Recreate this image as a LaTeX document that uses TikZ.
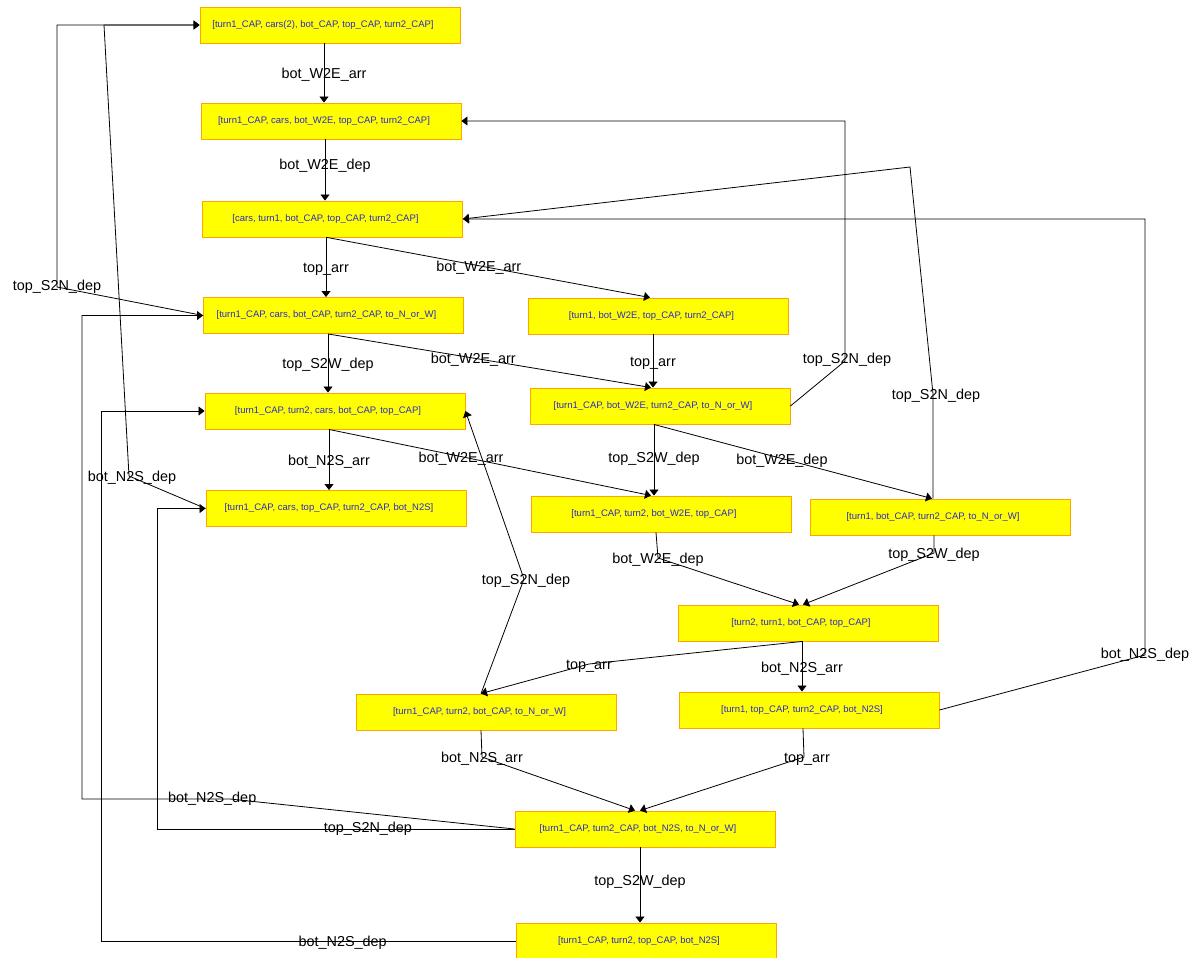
\documentclass[tikz,border=0pt]{standalone}
\usepackage{fontspec}
\setmainfont{Liberation Sans}
\usetikzlibrary{arrows.meta}
\definecolor{boxfill}{HTML}{FFFF00}
\definecolor{boxline}{HTML}{FFA500}
\definecolor{boxtext}{HTML}{2A2ACC}
\tikzset{
  state/.style={draw=boxline, fill=boxfill, line width=0.9pt, minimum width=260pt,
    minimum height=36pt, inner sep=0pt, text=boxtext,
    font=\fontsize{9.5}{11}\selectfont, execute at begin node={\hspace*{-14pt}}},
  lab/.style={font=\fontsize{14.4}{16}\selectfont, inner sep=0pt, text=black, yshift=-2pt},
  arr/.style={draw=black, line width=0.8pt, -{Triangle[length=6pt,width=9pt]}}
}
\begin{document}
\begin{tikzpicture}[x=1pt,y=-1pt]
\useasboundingbox (0,0) rectangle (1192,958);
\node[state] (N1) at (330,25) {[turn1\_CAP, cars(2), bot\_CAP, top\_CAP, turn2\_CAP]};
\node[state] (N2) at (331,121) {[turn1\_CAP, cars, bot\_W2E, top\_CAP, turn2\_CAP]};
\node[state] (N3) at (332.5,219) {[cars, turn1, bot\_CAP, top\_CAP, turn2\_CAP]};
\node[state] (N4) at (333.5,315.5) {[turn1\_CAP, cars, bot\_CAP, turn2\_CAP, to\_N\_or\_W]};
\node[state] (N5) at (658.5,316) {[turn1, bot\_W2E, top\_CAP, turn2\_CAP]};
\node[state] (N6) at (335,411) {[turn1\_CAP, turn2, cars, bot\_CAP, top\_CAP]};
\node[state] (N7) at (660,406) {[turn1\_CAP, bot\_W2E, turn2\_CAP, to\_N\_or\_W]};
\node[state] (N8) at (336,508.5) {[turn1\_CAP, cars, top\_CAP, turn2\_CAP, bot\_N2S]};
\node[state] (N9) at (661,514) {[turn1\_CAP, turn2, bot\_W2E, top\_CAP]};
\node[state] (N10) at (940,517) {[turn1, bot\_CAP, turn2\_CAP, to\_N\_or\_W]};
\node[state] (N11) at (808,623) {[turn2, turn1, bot\_CAP, top\_CAP]};
\node[state] (N12) at (486.5,712) {[turn1\_CAP, turn2, bot\_CAP, to\_N\_or\_W]};
\node[state] (N13) at (809,710) {[turn1, top\_CAP, turn2\_CAP, bot\_N2S]};
\node[state] (N14) at (645,829) {[turn1\_CAP, turn2\_CAP, bot\_N2S, to\_N\_or\_W]};
\node[state] (N15) at (646,941) {[turn1\_CAP, turn2, top\_CAP, bot\_N2S]};

\draw[arr] (324,0 |- N1.south) -- node[lab]{bot\_W2E\_arr} (324,0 |- N2.north);
\draw[arr] (325,0 |- N2.south) -- node[lab,pos=0.4]{bot\_W2E\_dep} (325,0 |- N3.north);
\draw[arr] (326,0 |- N3.south) -- node[lab]{top\_arr} (326,0 |- N4.north);
\draw[arr] (327,0 |- N3.south) -- node[lab,pos=0.47]{bot\_W2E\_arr} (650,0 |- N5.north);
\draw[arr] (328,0 |- N4.south) -- node[lab]{top\_S2W\_dep} (328,0 |- N6.north);
\draw[arr] (328,0 |- N4.south) -- node[lab,pos=0.45]{bot\_W2E\_arr} (651,0 |- N7.north);
\draw[arr] (653,0 |- N5.south) -- node[lab]{top\_arr} (653,0 |- N7.north);
\draw[arr] (329,0 |- N6.south) -- node[lab]{bot\_N2S\_arr} (329,0 |- N8.north);
\draw[arr] (329,0 |- N6.south) -- node[lab,pos=0.41]{bot\_W2E\_arr} (651,0 |- N9.north);
\draw[arr] (654,0 |- N7.south) -- node[lab,pos=0.45]{top\_S2W\_dep} (654,0 |- N9.north);
\draw[arr] (654,0 |- N7.south) -- node[lab,pos=0.46]{bot\_W2E\_dep} (932,0 |- N10.north);
\draw[arr] (656,0 |- N9.south) -- (658,558) node[lab]{bot\_W2E\_dep} -- (799,0 |- N11.north);
\draw[arr] (934,0 |- N10.south) -- (934,553) node[lab]{top\_S2W\_dep} -- (803,0 |- N11.north);
\draw[arr] (802,0 |- N11.south) -- (589,664) node[lab]{top\_arr} -- (481,0 |- N12.north);
\draw[arr] (802,0 |- N11.south) -- node[lab]{bot\_N2S\_arr} (802,0 |- N13.north);
\draw[arr] (481,0 |- N12.south) -- (482,757) node[lab]{bot\_N2S\_arr} -- (635,0 |- N14.north);
\draw[arr] (803,0 |- N13.south) -- (804,757) node[lab,xshift=3pt]{top\_arr} -- (640,0 |- N14.north);
\draw[arr] (640,0 |- N14.south) -- node[lab,pos=0.43]{top\_S2W\_dep} (640,0 |- N15.north);
\draw[arr] (N7.east) -- (845,361) node[lab,xshift=2pt,yshift=3pt]{top\_S2N\_dep} |- (N2.east);
\draw[arr] (933,0 |- N10.north) -- (933,394) node[lab,xshift=3pt]{top\_S2N\_dep} -- (910,167) -- (N3.east);
\draw[arr] (N13.east) -- (1145,655) node[lab,yshift=2pt]{bot\_N2S\_dep} |- (N3.east);
\draw[arr] (N14.west) -- (230,799) -- node[lab,pos=0.12,yshift=2pt]{bot\_N2S\_dep} (82,799) |- (N4.west);
\draw[arr] (N14.west) -- node[lab,pos=0.41,yshift=2pt]{top\_S2N\_dep} (157,829) |- (N8.west);
\draw[arr] (N15.west) -- node[lab,pos=0.417]{bot\_N2S\_dep} (101,941) |- (N6.west);
\draw[arr] (481,0 |- N12.north) -- (524,579) node[lab,xshift=2pt]{top\_S2N\_dep} -- (N6.east);
\draw[arr] (N4.west) -- (57,287) node[lab,yshift=2pt]{top\_S2N\_dep} |- (N1.west);
\draw[arr] (N8.west) -- (129,476) node[lab,xshift=3pt]{bot\_N2S\_dep} -- (104,25) -- (N1.west);
\end{tikzpicture}
\end{document}
